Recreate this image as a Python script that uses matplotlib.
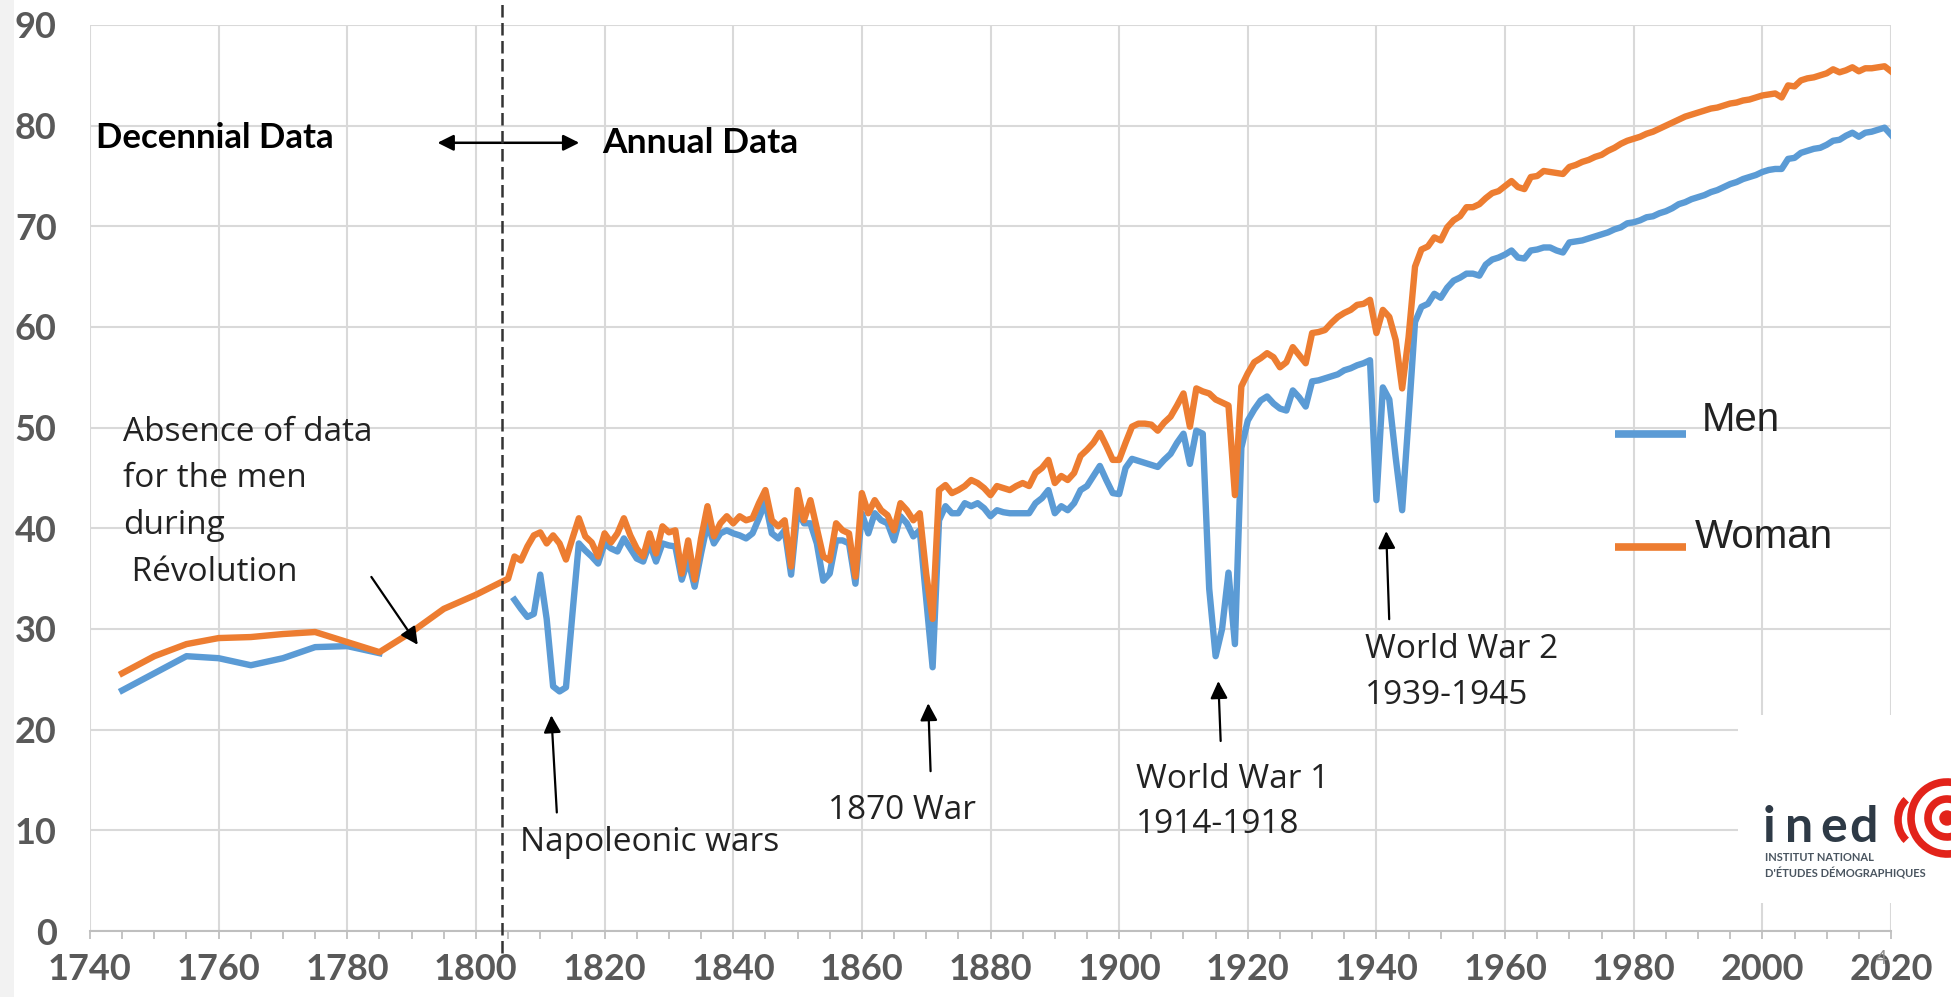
import matplotlib
matplotlib.use("Agg")
import matplotlib.pyplot as plt
from matplotlib.patches import Rectangle, Arc, Circle

# decennial estimates (smoothed in the original)
dec_years_women = [1745, 1750, 1755, 1760, 1765, 1770, 1775, 1780, 1785, 1790, 1795, 1800, 1805]
dec_women = [25.6, 27.3, 28.5, 29.1, 29.2, 29.5, 29.7, 28.7, 27.7, 29.7, 32.0, 33.4, 35.0]
dec_years_men = [1745, 1750, 1755, 1760, 1765, 1770, 1775, 1780, 1785]
dec_men = [23.9, 25.6, 27.3, 27.1, 26.4, 27.1, 28.2, 28.3, 27.6]

# annual data 1806-2020
years = list(range(1806, 2021))
women = [
    37.2, 36.8, 38.2, 39.3, 39.6, 38.5, 39.3, 38.5, 36.9, 39.0,  # 1806
    41.0, 39.2, 38.6, 37.2, 39.5, 38.6, 39.5, 41.0, 39.3, 38.0,  # 1816
    37.2, 39.5, 37.5, 40.2, 39.6, 39.8, 35.5, 38.8, 34.9, 39.0,  # 1826
    42.2, 39.2, 40.5, 41.2, 40.5, 41.2, 40.8, 41.0, 42.5, 43.8,  # 1836
    40.8, 40.2, 40.8, 36.2, 43.8, 40.8, 42.8, 40.0, 37.2, 36.8,  # 1846
    40.5, 39.8, 39.5, 35.2, 43.5, 41.5, 42.8, 41.8, 41.3, 39.8,  # 1856
    42.5, 41.8, 40.8, 41.5, 35.5, 31.0, 43.8, 44.3, 43.5, 43.8,  # 1866
    44.2, 44.8, 44.5, 44.0, 43.3, 44.2, 44.0, 43.8, 44.2, 44.5,  # 1876
    44.2, 45.5, 46.0, 46.8, 44.5, 45.2, 44.8, 45.5, 47.2, 47.8,  # 1886
    48.5, 49.5, 48.2, 46.8, 46.8, 48.5, 50.1, 50.4, 50.4, 50.3,  # 1896
    49.7, 50.5, 51.1, 52.2, 53.4, 50.1, 53.9, 53.6, 53.4, 52.8,  # 1906
    52.5, 52.2, 43.3, 54.1, 55.4, 56.5, 56.9, 57.4, 57.0, 56.0,  # 1916
    56.5, 58.0, 57.2, 56.4, 59.4, 59.5, 59.7, 60.4, 61.0, 61.4,  # 1926
    61.7, 62.2, 62.3, 62.7, 59.4, 61.7, 61.0, 58.7, 53.9, 59.0,  # 1936
    66.0, 67.7, 68.0, 68.9, 68.6, 69.9, 70.6, 71.0, 71.9, 71.9,  # 1946
    72.2, 72.8, 73.3, 73.5, 74.0, 74.5, 73.9, 73.7, 74.9, 75.0,  # 1956
    75.5, 75.4, 75.3, 75.2, 75.9, 76.1, 76.4, 76.6, 76.9, 77.1,  # 1966
    77.5, 77.8, 78.2, 78.5, 78.7, 78.9, 79.2, 79.4, 79.7, 80.0,  # 1976
    80.3, 80.6, 80.9, 81.1, 81.3, 81.5, 81.7, 81.8, 82.0, 82.2,  # 1986
    82.3, 82.5, 82.6, 82.8, 83.0, 83.1, 83.2, 82.8, 84.0, 83.9,  # 1996
    84.5, 84.7, 84.8, 85.0, 85.2, 85.6, 85.3, 85.5, 85.8, 85.4,  # 2006
    85.7, 85.7, 85.8, 85.9, 85.4,                                # 2016
]
men = [
    32.9, 32.0, 31.2, 31.5, 35.4, 31.0, 24.3, 23.8, 24.2, 31.5,  # 1806
    38.5, 37.8, 37.2, 36.5, 38.5, 38.0, 37.7, 39.0, 38.0, 37.0,  # 1816
    36.7, 38.5, 36.7, 38.5, 38.3, 38.2, 34.9, 36.9, 34.2, 37.5,  # 1826
    40.5, 38.5, 39.5, 39.8, 39.5, 39.3, 39.0, 39.5, 41.0, 42.6,  # 1836
    39.5, 39.0, 39.8, 35.4, 41.8, 40.5, 40.5, 38.5, 34.8, 35.5,  # 1846
    38.8, 38.8, 38.5, 34.5, 41.5, 39.5, 41.5, 40.8, 40.5, 38.8,  # 1856
    41.2, 40.5, 39.2, 39.8, 33.0, 26.2, 40.8, 42.2, 41.5, 41.5,  # 1866
    42.5, 42.2, 42.5, 42.0, 41.2, 41.8, 41.6, 41.5, 41.5, 41.5,  # 1876
    41.5, 42.5, 43.0, 43.8, 41.5, 42.2, 41.8, 42.5, 43.8, 44.2,  # 1886
    45.2, 46.2, 44.8, 43.5, 43.4, 46.0, 46.9, 46.7, 46.5, 46.3,  # 1896
    46.1, 46.8, 47.4, 48.5, 49.4, 46.4, 49.7, 49.4, 34.0, 27.3,  # 1906
    30.0, 35.6, 28.5, 48.0, 50.7, 51.8, 52.7, 53.1, 52.4, 51.9,  # 1916
    51.7, 53.7, 53.0, 52.1, 54.6, 54.7, 54.9, 55.1, 55.3, 55.7,  # 1926
    55.9, 56.2, 56.4, 56.7, 42.8, 54.0, 52.8, 47.0, 41.8, 51.0,  # 1936
    60.5, 62.0, 62.3, 63.3, 62.9, 63.9, 64.6, 64.9, 65.3, 65.3,  # 1946
    65.1, 66.2, 66.7, 66.9, 67.2, 67.6, 66.9, 66.8, 67.6, 67.7,  # 1956
    67.9, 67.9, 67.6, 67.4, 68.4, 68.5, 68.6, 68.8, 69.0, 69.2,  # 1966
    69.4, 69.7, 69.9, 70.3, 70.4, 70.6, 70.9, 71.0, 71.3, 71.5,  # 1976
    71.8, 72.2, 72.4, 72.7, 72.9, 73.1, 73.4, 73.6, 73.9, 74.2,  # 1986
    74.4, 74.7, 74.9, 75.1, 75.4, 75.6, 75.7, 75.7, 76.7, 76.8,  # 1996
    77.3, 77.5, 77.7, 77.8, 78.1, 78.5, 78.6, 79.0, 79.3, 78.9,  # 2006
    79.3, 79.4, 79.6, 79.8, 79.1,                                # 2016
]

BLUE = "#5B9BD5"
ORANGE = "#ED7D31"
GRID = "#D9D9D9"
RED = "#E2231A"
SLATE = "#2E3A46"

fig = plt.figure(figsize=(19.51, 9.97), dpi=100)
fig.patch.set_facecolor("#F2F2F2")
# slide background: white, with a thin grey strip on the left
fig.patches.append(Rectangle((14 / 1951, 0), 1, 1, transform=fig.transFigure,
                             facecolor="white", edgecolor="none", zorder=-10))

ax = fig.add_axes([90 / 1951, 66 / 997, 1801 / 1951, 906 / 997])
ax.set_facecolor("white")

LW = 4.6
ax.plot(dec_years_women + years, dec_women + women, color=ORANGE, lw=LW,
        solid_joinstyle="round", zorder=3)
ax.plot(dec_years_men, dec_men, color=BLUE, lw=LW, solid_joinstyle="round", zorder=2)
ax.plot(years, men, color=BLUE, lw=LW, solid_joinstyle="round", zorder=2)

ax.set_xlim(1740, 2020)
ax.set_ylim(0, 90)
ax.set_xticks(range(1740, 2021, 20))
ax.set_xticks(range(1740, 2021, 5), minor=True)
ax.set_yticks(range(0, 91, 10))
ax.grid(True, which="major", color=GRID, lw=1.5, zorder=0)
for s in ["top", "right", "left"]:
    ax.spines[s].set_visible(False)
ax.spines["bottom"].set_color("#BFBFBF")
ax.spines["bottom"].set_linewidth(1.5)
ax.tick_params(axis="x", which="both", length=6, width=1.3, color="#BFBFBF",
               pad=10, labelsize=26, labelcolor="#595959")
ax.tick_params(axis="y", length=0, pad=24, labelsize=26, labelcolor="#595959")
for lab in ax.get_xticklabels() + ax.get_yticklabels():
    lab.set_family("Lato")
    lab.set_fontweight("bold")

# divider between decennial and annual data
ax.plot([1804, 1804], [-2.2, 94], color="#333333", lw=1.8, ls=(0, (5, 2.2)),
        clip_on=False, zorder=4)

ax.text(1740.9, 78.8, "Decennial Data", fontsize=25, fontweight="bold",
        family="Lato", va="center", ha="left")
ax.text(1819.6, 78.3, "Annual Data", fontsize=25.5, fontweight="bold",
        family="Lato", va="center", ha="left")
ax.annotate("", xy=(1793.6, 78.3), xytext=(1816.5, 78.3),
            arrowprops=dict(arrowstyle="<|-|>", color="black", lw=1.8,
                            mutation_scale=24))

txt = dict(fontsize=24, family="Open Sans", color="#222222")
ax.text(1745.1, 42.6, "Absence of data\nfor the men\nduring\n Révolution",
        va="center", ha="left", linespacing=1.55, **txt)

arrow = dict(arrowstyle="-|>", color="black", lw=1.6, mutation_scale=26)
ax.annotate("", xy=(1791.2, 28.2), xytext=(1783.5, 35.4), arrowprops=arrow)
ax.annotate("", xy=(1811.7, 21.7), xytext=(1812.6, 11.5), arrowprops=arrow)
ax.text(1806.9, 8.8, "Napoleonic wars", ha="left", va="center", **txt)
ax.annotate("", xy=(1870.3, 22.9), xytext=(1870.7, 15.6), arrowprops=arrow)
ax.text(1866.2, 12.0, "1870 War", ha="center", va="center", **txt)
ax.annotate("", xy=(1915.4, 25.1), xytext=(1915.8, 18.6), arrowprops=arrow)
ax.text(1902.6, 12.8, "World War 1\n1914-1918", ha="left", va="center",
        linespacing=1.5, **txt)
ax.annotate("", xy=(1941.5, 40.0), xytext=(1942.0, 30.7), arrowprops=arrow)
ax.text(1938.2, 25.7, "World War 2\n1939-1945", ha="left", va="center",
        linespacing=1.5, **txt)

# legend drawn in place, as in the original
ax.plot([1977.1, 1988.1], [49.4, 49.4], color=BLUE, lw=5.5, solid_capstyle="butt")
ax.plot([1977.1, 1988.1], [38.1, 38.1], color=ORANGE, lw=5.5, solid_capstyle="butt")
ax.text(1990.6, 50.8, "Men", fontsize=29, family="Liberation Sans",
        color="#222222", va="center", ha="left")
ax.text(1989.5, 39.1, "Woman", fontsize=29, family="Liberation Sans",
        color="#222222", va="center", ha="left")

# ined logo box (pixel units inside the box)
logo = fig.add_axes([1738 / 1951, 94 / 997, 213 / 1951, 188 / 997])
logo.set_xlim(0, 213)
logo.set_ylim(0, 188)
logo.axis("off")
logo.add_patch(Rectangle((0, 0), 213, 188, facecolor="white", edgecolor="none"))
for letter, lx in zip("ined", [25, 47, 82, 111]):
    logo.text(lx, 61, letter, fontsize=36, fontweight="bold", family="Lato",
              color=SLATE, va="baseline", ha="left")
logo.text(27, 46, "INSTITUT NATIONAL", fontsize=8, family="Lato",
          fontweight="bold", color="#4A5560", va="center")
logo.text(27, 30, "D'ÉTUDES DÉMOGRAPHIQUES", fontsize=8, family="Lato",
          fontweight="bold", color="#4A5560", va="center")
logo.add_patch(Arc((180, 83), 40, 50, theta1=120, theta2=240, color=RED, lw=5.5))
logo.add_patch(Arc((209, 85), 72, 72, theta1=70, theta2=300, color=RED, lw=5.5))
logo.add_patch(Arc((209, 85), 38, 38, theta1=40, theta2=330, color=RED, lw=5.5))
logo.add_patch(Circle((209, 85), 7, color=RED))
fig.text(1881 / 1951, 1 - 958 / 997, "4", fontsize=14, color="#8C8C8C",
         family="Lato", ha="center", va="center")

fig.savefig("out.png", dpi=100, facecolor=fig.get_facecolor())
